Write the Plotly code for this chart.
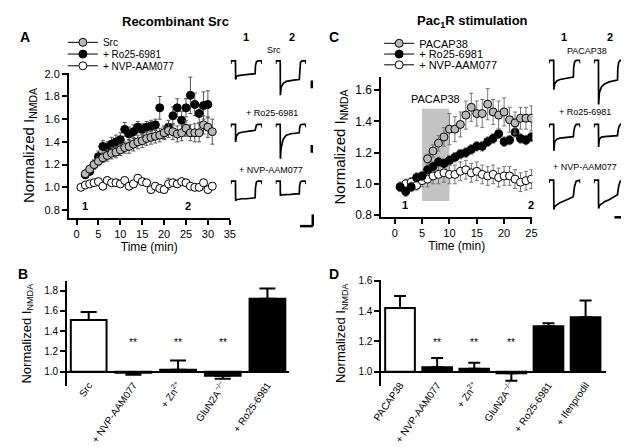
import plotly.graph_objects as go

W, H = 629, 447
FONT = "Liberation Sans, Arial, sans-serif"

# ---------------- Panel A: recombinant Src, time course ----------------
a_t_src = list(range(2, 32))
a_src = [1.12, 1.16, 1.20, 1.23, 1.26, 1.28, 1.30, 1.31, 1.33, 1.35, 1.36, 1.38, 1.40, 1.41, 1.43,
         1.44, 1.45, 1.46, 1.48, 1.50, 1.49, 1.47, 1.48, 1.52, 1.48, 1.48, 1.48, 1.55, 1.53, 1.49]
a_src_err = [0.03, 0.03, 0.04, 0.04, 0.04, 0.05, 0.05, 0.05, 0.05, 0.05, 0.06, 0.06, 0.06, 0.06, 0.06,
             0.06, 0.06, 0.06, 0.06, 0.06, 0.07, 0.07, 0.07, 0.07, 0.07, 0.08, 0.08, 0.08, 0.09, 0.11]
a_t_ro = list(range(2, 31))
a_ro = [1.11, 1.14, 1.20, 1.27, 1.36, 1.35, 1.38, 1.40, 1.42, 1.51, 1.47, 1.49, 1.53, 1.51, 1.53,
        1.54, 1.55, 1.70, 1.48, 1.53, 1.63, 1.70, 1.59, 1.70, 1.81, 1.73, 1.65, 1.72, 1.73]
a_ro_err = [0.03, 0.03, 0.04, 0.05, 0.05, 0.05, 0.06, 0.06, 0.06, 0.06, 0.06, 0.06, 0.05, 0.05, 0.05,
            0.05, 0.05, 0.10, 0.05, 0.06, 0.08, 0.08, 0.08, 0.08, 0.16, 0.10, 0.08, 0.12, 0.12]
a_t_nvp = list(range(1, 32))
a_nvp = [1.00, 1.02, 1.03, 1.04, 1.05, 1.01, 1.06, 1.04, 1.04, 1.03, 1.06, 1.01, 1.03, 1.08, 1.05, 1.04,
         0.98, 1.01, 0.99, 0.98, 1.03, 1.04, 1.03, 1.05, 1.04, 1.01, 1.00, 1.00, 1.04, 0.98, 1.01]
a_nvp_err = [0.02, 0.02, 0.03, 0.03, 0.03, 0.03, 0.03, 0.03, 0.03, 0.03, 0.03, 0.03, 0.03, 0.03, 0.03, 0.03,
             0.03, 0.03, 0.03, 0.03, 0.05, 0.03, 0.03, 0.03, 0.03, 0.03, 0.03, 0.03, 0.03, 0.03, 0.03]

# ---------------- Panel C: Pac1R stimulation, time course ----------------
c_t_pacap = list(range(6, 26))
c_pacap = [1.16, 1.21, 1.26, 1.30, 1.35, 1.35, 1.38, 1.44, 1.49, 1.45, 1.45, 1.51, 1.46, 1.44, 1.46,
           1.41, 1.39, 1.42, 1.42, 1.42]
c_pacap_err = [0.03, 0.04, 0.05, 0.06, 0.10, 0.08, 0.08, 0.09, 0.09, 0.08, 0.09, 0.10, 0.08, 0.09, 0.09,
               0.08, 0.07, 0.07, 0.07, 0.08]
c_t_ro = list(range(1, 26))
c_ro = [0.98, 0.95, 0.98, 1.04, 1.05, 1.09, 1.11, 1.14, 1.13, 1.15, 1.17, 1.19, 1.20, 1.22, 1.24,
        1.24, 1.27, 1.29, 1.32, 1.27, 1.28, 1.33, 1.29, 1.28, 1.30]
c_ro_err = [0.03] * 25
c_t_nvp = list(range(1, 26))
c_nvp = [0.98, 1.00, 1.01, 0.99, 1.02, 1.03, 1.05, 1.06, 1.07, 1.06, 1.06, 1.08, 1.09, 1.07, 1.08,
         1.06, 1.05, 1.06, 1.04, 1.05, 1.05, 1.03, 1.01, 1.02, 1.03]
c_nvp_err = [0.03, 0.03, 0.03, 0.03, 0.04, 0.05, 0.05, 0.06, 0.06, 0.06, 0.06, 0.06, 0.06, 0.06, 0.06,
             0.06, 0.06, 0.06, 0.06, 0.06, 0.06, 0.06, 0.06, 0.06, 0.06]
c_pacap_window = [5, 10]
c_pacap_window_y = [0.89, 1.48]

# ---------------- Panel B: summary bars ----------------
b_cats = ["Src", "+ NVP-AAM077", "+ Zn<sup>2+</sup>", "GluN2A<sup>−/−</sup>", "+ Ro25-6981"]
b_vals = [1.51, 0.99, 1.02, 0.96, 1.72]
b_err_up = [0.08, 0.0, 0.09, 0.0, 0.10]
b_err_dn = [0.0, 0.02, 0.0, 0.03, 0.0]
b_sig = ["", "**", "**", "**", ""]

# ---------------- Panel D: summary bars ----------------
d_cats = ["PACAP38", "+ NVP-AAM077", "+ Zn<sup>2+</sup>", "GluN2A<sup>−/−</sup>", "+ Ro25-6981", "+ Ifenprodil"]
d_vals = [1.42, 1.03, 1.02, 0.99, 1.30, 1.36]
d_err_up = [0.08, 0.06, 0.04, 0.0, 0.02, 0.11]
d_err_dn = [0.0, 0.0, 0.0, 0.05, 0.0, 0.0]
d_sig = ["", "**", "**", "**", "", ""]

# ---------------- Example current sweeps (sweep fraction, current in scale units) ----------------
sweep_t = [0, 0.01, 0.15, 0.155, 0.18, 0.25, 0.35, 0.5, 0.65, 0.78, 0.79, 0.82, 0.87, 0.99, 1.0]
a_src_1 = [-3, 0, 0, -19, -16, -15, -14.5, -14, -13.5, -13, -5, -1, 0, 0, -3]
a_src_2 = [-3, 0, 0, -35, -27, -23, -21, -20, -19.5, -19, -8, -1.5, 0, 0, -3]
a_ro_1 = [-3, 0, 0, -18, -12, -9, -8, -7, -6.5, -6, -2.5, -0.5, 0, 0, -3]
a_ro_2 = [-3, 0, 0, -35, -24, -15, -11, -9.5, -9, -8.5, -3.5, -0.5, 0, 0, -3]
a_nvp_1 = [-3, 0, 0, -20, -19, -18.5, -18, -18, -17.5, -17, -7, -1, 0, 0, -3]
a_nvp_2 = [-3, 0, 0, -15, -14, -14, -13.5, -13.5, -13, -13, -5, -1, 0, 0, -3]
c_pacap_1 = [-3, 0, 0, -30, -24, -21, -19.5, -18.5, -17.5, -17, -7, -1.5, 0, 0, -3]
c_pacap_2 = [-3, 0, 0, -46, -33, -27, -24, -22, -21, -20, -8, -2, 0, 0, -3]
c_ro_1 = [-3, 0, 0, -27, -18, -15, -14, -13.5, -13, -12.5, -8, -3, 0, 0, -3]
c_ro_2 = [-3, 0, 0, -23, -15, -13, -12.5, -12, -12, -11.5, -8, -3, 0, 0, -3]
c_nvp_1 = [-3, 0, 0, -30, -27, -25, -23, -21, -19, -17, -13, -6, -1, 0, -3]
c_nvp_2 = [-3, 0, 0, -29, -26, -24, -22, -20, -17, -15, -12, -6, -1, 0, -3]

GRAY = "#b8b8b8"


def xd(p0, p1):
    return [p0 / W, p1 / W]


def yd(top, bottom):
    return [1 - bottom / H, 1 - top / H]


def px(x):
    return x / W


def py(y):
    return 1 - y / H


fig = go.Figure()

mk = dict(size=8, line=dict(color="black", width=1))


def series(x, y, err, color, xa, ya, ecol="#555555"):
    fig.add_trace(go.Scatter(
        x=x, y=y, mode="markers", xaxis=xa, yaxis=ya, showlegend=False,
        marker=dict(color=color, **mk),
        error_y=dict(type="data", array=err, color=ecol, thickness=1, width=2)))


# Panel A (black first, then gray, then white)
series(a_t_ro, a_ro, a_ro_err, "black", "x", "y")
series(a_t_src, a_src, a_src_err, GRAY, "x", "y")
series(a_t_nvp, a_nvp, a_nvp_err, "white", "x", "y")
# Panel C
series(c_t_nvp, c_nvp, c_nvp_err, "white", "x2", "y2", "#777777")
series(c_t_ro, c_ro, c_ro_err, "black", "x2", "y2", "#777777")
series(c_t_pacap, c_pacap, c_pacap_err, GRAY, "x2", "y2", "#777777")

# legends (one per entry for tight spacing)
leg_items = [
    ("legend", "Src", GRAY, "x", "y"),
    ("legend2", "+ Ro25-6981", "black", "x", "y"),
    ("legend3", "+ NVP-AAM077", "white", "x", "y"),
    ("legend4", "PACAP38", GRAY, "x2", "y2"),
    ("legend5", "+ Ro25-6981", "black", "x2", "y2"),
    ("legend6", "+ NVP-AAM077", "white", "x2", "y2"),
]
for lg, name, col, xa, ya in leg_items:
    fig.add_trace(go.Scatter(
        x=[None], y=[None], mode="lines+markers", name=name, legend=lg, xaxis=xa, yaxis=ya,
        line=dict(color="black", width=1), marker=dict(color=col, **mk)))


# Bars
def bars(cats, vals, up, dn, xa, ya, capw):
    cols = ["white"] + ["black"] * (len(cats) - 1)
    fig.add_trace(go.Bar(
        x=cats, y=[v - 1 for v in vals], base=1, xaxis=xa, yaxis=ya, width=0.8, showlegend=False,
        marker=dict(color=cols, line=dict(color="black", width=2))))
    fig.add_trace(go.Scatter(
        x=cats, y=vals, mode="markers", xaxis=xa, yaxis=ya, showlegend=False,
        marker=dict(size=1, color="rgba(0,0,0,0)"),
        error_y=dict(type="data", symmetric=False, array=up, arrayminus=dn,
                     color="black", thickness=2, width=capw)))


bars(b_cats, b_vals, b_err_up, b_err_dn, "x3", "y3", 8)
bars(d_cats, d_vals, d_err_up, d_err_dn, "x4", "y4", 6)

# Sweeps
sweeps = [
    (a_src_1, (219, 251), 49), (a_src_2, (265, 296), 49),
    (a_ro_1, (219, 251), 114), (a_ro_2, (265, 296), 114),
    (a_nvp_1, (219, 251), 172), (a_nvp_2, (265, 296), 172),
    (c_pacap_1, (545, 577), 48.5), (c_pacap_2, (591, 622), 48.5),
    (c_ro_1, (545, 577), 114), (c_ro_2, (591, 622), 114),
    (c_nvp_1, (545, 577), 171), (c_nvp_2, (591, 622), 171),
]

layout_axes = {}
for i, (cur, (x0, x1), base) in enumerate(sweeps):
    n = i + 5
    fig.add_trace(go.Scatter(x=sweep_t, y=cur, mode="lines", xaxis=f"x{n}", yaxis=f"y{n}",
                             showlegend=False, line=dict(color="black", width=1.7)))
    layout_axes[f"xaxis{n}"] = dict(domain=xd(x0, x1), range=[0, 1], visible=False, anchor=f"y{n}")
    layout_axes[f"yaxis{n}"] = dict(domain=yd(base - 4, base + 45), range=[-45, 4], visible=False, anchor=f"x{n}")

axcommon = dict(showline=True, linecolor="black", linewidth=1.5, ticks="outside", ticklen=5,
                tickwidth=1.5, tickcolor="black", showgrid=False, zeroline=False)

layout_axes.update(
    xaxis=dict(domain=xd(53, 218), range=[-1.78, 35], tickvals=list(range(0, 36, 5)), anchor="y",
               title=dict(text="Time (min)", font=dict(size=12), standoff=3), tickfont=dict(size=11), **axcommon),
    yaxis=dict(domain=yd(61, 210), range=[0.727, 2.01], tickvals=[0.8, 1.0, 1.2, 1.4, 1.6, 1.8, 2.0],
               tickformat=".1f", anchor="x", tickfont=dict(size=11),
               title=dict(text="Normalized I<sub>NMDA</sub>", font=dict(size=15), standoff=6), **axcommon),
    xaxis2=dict(domain=xd(373, 528), range=[-2.5, 25.18], tickvals=list(range(0, 26, 5)), anchor="y2",
                title=dict(text="Time (min)", font=dict(size=12), standoff=3), tickfont=dict(size=11), **axcommon),
    yaxis2=dict(domain=yd(65, 209), range=[0.785, 1.687], tickvals=[0.8, 1.0, 1.2, 1.4, 1.6],
                tickformat=".1f", anchor="x2", tickfont=dict(size=12),
                title=dict(text="Normalized I<sub>NMDA</sub>", font=dict(size=15), standoff=6), **axcommon),
    xaxis3=dict(domain=xd(51, 279), range=[-0.49, 4.49], anchor="free", position=py(367),
                showline=True, linecolor="black", linewidth=1.5, ticks="outside", ticklen=3,
                tickcolor="rgba(0,0,0,0)", tickangle=-55, tickfont=dict(size=10), showgrid=False),
    yaxis3=dict(domain=yd(274, 382), range=[0.855, 1.896], tickvals=[1.0, 1.2, 1.4, 1.6, 1.8],
                tickformat=".1f", anchor="x3", tickfont=dict(size=10),
                title=dict(text="Normalized I<sub>NMDA</sub>", font=dict(size=13), standoff=10), **axcommon),
    xaxis4=dict(domain=xd(373, 603), range=[-0.51, 5.54], anchor="free", position=py(367),
                showline=True, linecolor="black", linewidth=1.5, ticks="outside", ticklen=3,
                tickcolor="rgba(0,0,0,0)", tickangle=-55, tickfont=dict(size=10), showgrid=False),
    yaxis4=dict(domain=yd(273, 382), range=[0.903, 1.606], tickvals=[1.0, 1.2, 1.4, 1.6],
                tickformat=".1f", anchor="x4", tickfont=dict(size=10),
                title=dict(text="Normalized I<sub>NMDA</sub>", font=dict(size=13), standoff=10), **axcommon),
)


def leg(x, y, size):
    return dict(x=px(x), y=py(y), xanchor="left", yanchor="middle", bgcolor="rgba(0,0,0,0)",
                font=dict(size=size, family=FONT), itemwidth=30, borderwidth=0)


legends = dict(
    legend=leg(47, 30, 10), legend2=leg(47, 42, 10), legend3=leg(47, 54, 10),
    legend4=leg(371, 31, 11), legend5=leg(371, 42, 11), legend6=leg(371, 53, 11),
)

ann = []


def pa(text, x, y, size, bold=False, **kw):
    t = f"<b>{text}</b>" if bold else text
    ann.append(dict(text=t, x=px(x), y=py(y), xref="paper", yref="paper", showarrow=False,
                    font=dict(size=size, family=FONT, color="black"), xanchor="center", yanchor="middle", **kw))


pa("Recombinant Src", 162, 9, 13, True)
pa("Pac<sub>1</sub>R stimulation", 467, 9, 13, True)
pa("A", 8, 25, 14, True)
pa("B", 6, 267, 14, True)
pa("C", 325, 25, 14, True)
pa("D", 325, 267, 14, True)
# sweep labels
pa("1", 235, 25, 11, True)
pa("2", 282, 25, 11, True)
pa("Src", 263, 38, 9)
pa("+ Ro25-6981", 261, 102, 9)
pa("+ NVP-AAM077", 260, 161, 9)
pa("1", 560, 25, 11, True)
pa("2", 607, 25, 11, True)
pa("PACAP38", 584, 39, 9)
pa("+ Ro25-6981", 582, 101, 9)
pa("+ NVP-AAM077", 582, 158, 9)


def da(text, x, y, xr, yr, size, bold=False):
    t = f"<b>{text}</b>" if bold else text
    ann.append(dict(text=t, x=x, y=y, xref=xr, yref=yr, showarrow=False,
                    font=dict(size=size, family=FONT, color="black"), xanchor="center", yanchor="middle"))


da("1", 2.0, 0.836, "x", "y", 11, True)
da("2", 25.4, 0.836, "x", "y", 11, True)
da("1", 1.8, 0.862, "x2", "y2", 11, True)
da("2", 24.9, 0.862, "x2", "y2", 11, True)
da("PACAP38", 7.4, 1.545, "x2", "y2", 11)
for c, s in zip(b_cats, b_sig):
    if s:
        da(s, c, 1.286, "x3", "y3", 10)
for c, s in zip(d_cats, d_sig):
    if s:
        da(s, c, 1.195, "x4", "y4", 10)

shapes = [dict(type="rect", xref="x2", yref="y2", x0=c_pacap_window[0], x1=c_pacap_window[1],
               y0=c_pacap_window_y[0], y1=c_pacap_window_y[1], fillcolor="#c3c3c3",
               line=dict(width=0), layer="below")]


def seg(x0, y0, x1, y1):
    shapes.append(dict(type="line", xref="paper", yref="paper", x0=px(x0), y0=py(y0), x1=px(x1), y1=py(y1),
                       line=dict(color="black", width=2.5)))


# scale bars
seg(302, 69, 302, 77)
seg(302, 135, 302, 143)
seg(290, 218, 303, 218)
seg(303, 206, 303, 218)
seg(627, 65, 627, 72)
seg(627, 130, 627, 137)
seg(612, 209, 627, 209)
seg(627, 197, 627, 209)

fig.update_layout(
    width=W, height=H, autosize=False, margin=dict(l=0, r=0, t=0, b=0),
    paper_bgcolor="white", plot_bgcolor="white",
    font=dict(family=FONT, color="black", size=11),
    annotations=ann, shapes=shapes, bargap=0.2,
    **layout_axes, **legends,
)

fig.write_html("out.html")
